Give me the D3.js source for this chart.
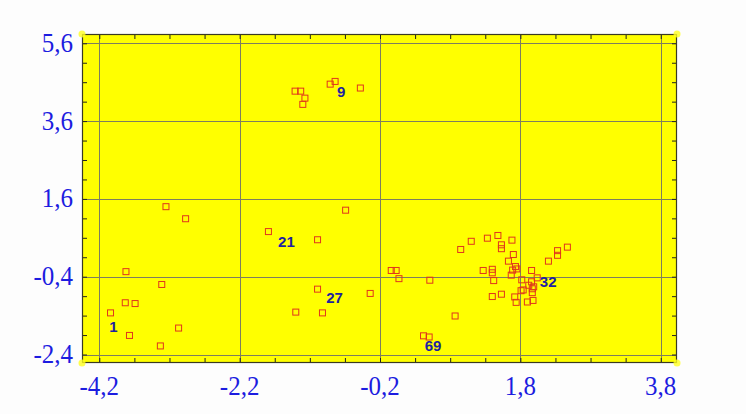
<!DOCTYPE html>
<html><head><meta charset="utf-8">
<script src="https://cdn.jsdelivr.net/npm/d3@7"></script>
<style>
html,body{margin:0;padding:0;background:#fdfdfd;}
svg{display:block;}
</style></head>
<body>
<svg id="chart" width="746" height="414"></svg>
<script>
// ---- data ----
const xTicks = [-4.2, -2.2, -0.2, 1.8, 3.8];
const yTicks = [-2.4, -0.4, 1.6, 3.6, 5.6];
const xValues = [
  -3.25,-2.97,-3.82,-3.31,-3.83,-3.69,-4.04,-3.77,-3.07,-3.33,
  -1.41,-1.33,-1.27,-1.30,-0.91,-0.84,-0.48,
  -0.69,-1.79,-1.09,-0.04,0.03,0.07,0.51,-1.09,-0.34,-1.40,-1.02,0.87,0.42,0.50,
  0.95,1.10,1.33,1.48,1.53,1.53,1.68,1.70,1.63,1.73,1.75,1.69,1.27,1.40,1.40,1.42,1.67,
  1.96,1.82,1.96,1.92,1.99,1.97,1.81,1.84,1.97,1.53,1.40,1.72,1.74,1.90,1.98,
  2.20,2.33,2.33,2.47,2.04
];
const yValues = [
  1.40,1.09,-0.27,-0.60,-1.07,-1.09,-1.33,-1.91,-1.72,-2.18,
  4.37,4.37,4.19,4.03,4.55,4.62,4.45,
  1.31,0.76,0.55,-0.24,-0.24,-0.45,-0.49,-0.72,-0.83,-1.31,-1.33,-1.41,-1.92,-1.95,
  0.30,0.51,0.59,0.66,0.42,0.32,0.54,0.17,0.00,-0.14,-0.20,-0.23,-0.24,-0.21,-0.30,-0.50,-0.36,
  -0.24,-0.48,-0.53,-0.62,-0.66,-0.71,-0.76,-0.74,-0.81,-0.85,-0.91,-0.92,-1.06,-1.05,-1.01,
  0.00,0.27,0.15,0.36,-0.43
];
const pointLabels = ["1","9","21","27","32","69"];
const labelIndex  = [6, 15, 18, 24, 67, 30];

// ---- layout / style ----
const plot = {left: 82, right: 677, top: 34, bottom: 363};
const xDomain = [-4.4465, 4.032];
const yDomain = [-2.6185, 5.839];
const labelOffset = {"1":[3,14],"9":[6,10],"21":[18,10],"27":[17,8],"32":[11,4],"69":[4,9]};

const svg = d3.select("#chart");
const x = d3.scaleLinear().domain(xDomain).range([plot.left, plot.right]);
const y = d3.scaleLinear().domain(yDomain).range([plot.bottom, plot.top]);

svg.append("rect").attr("x", plot.left).attr("y", plot.top)
  .attr("width", plot.right - plot.left).attr("height", plot.bottom - plot.top)
  .attr("fill", "#ffff00");

const xMinor = d3.range(0, 17).map(i => +(-4.2 + i * 0.5).toFixed(2));
const yMinor = d3.range(0, 17).map(i => +(-2.4 + i * 0.5).toFixed(2));

const grid = svg.append("g").attr("stroke", "#7e7e5e").attr("stroke-width", 1).attr("shape-rendering","crispEdges");
grid.selectAll(".gx").data(xTicks).join("line")
  .attr("x1", d => Math.round(x(d)) + 0.5).attr("x2", d => Math.round(x(d)) + 0.5)
  .attr("y1", plot.top).attr("y2", plot.bottom);
grid.selectAll(".gy").data(yTicks).join("line")
  .attr("y1", d => Math.round(y(d)) + 0.5).attr("y2", d => Math.round(y(d)) + 0.5)
  .attr("x1", plot.left).attr("x2", plot.right);

const fmt = d => d3.format(".1f")(d).replace(".", ",").replace("−", "-");
const axisStyle = g => { g.select(".domain").remove(); g.selectAll("line").attr("stroke", "#222"); g.selectAll("text").remove(); };
svg.append("g").attr("transform", `translate(0,${plot.bottom})`)
  .call(d3.axisBottom(x).tickValues(xMinor).tickSize(-5).tickFormat("")).call(axisStyle);
svg.append("g").attr("transform", `translate(0,${plot.top})`)
  .call(d3.axisTop(x).tickValues(xMinor).tickSize(-5).tickFormat("")).call(axisStyle);
svg.append("g").attr("transform", `translate(${plot.left},0)`)
  .call(d3.axisLeft(y).tickValues(yMinor).tickSize(-5).tickFormat("")).call(axisStyle);
svg.append("g").attr("transform", `translate(${plot.right},0)`)
  .call(d3.axisRight(y).tickValues(yMinor).tickSize(-5).tickFormat("")).call(axisStyle);

svg.append("rect").attr("x", plot.left + 0.5).attr("y", plot.top + 0.5)
  .attr("width", plot.right - plot.left - 1).attr("height", plot.bottom - plot.top - 1)
  .attr("fill", "none").attr("stroke", "#3a3a22").attr("stroke-width", 1.2);

[[plot.left, plot.top],[plot.right, plot.top],[plot.left, plot.bottom],[plot.right, plot.bottom]].forEach(c => {
  svg.append("circle").attr("cx", c[0]).attr("cy", c[1]).attr("r", 3.5).attr("fill", "#ffff20").attr("opacity", 0.8);
});

const tickFont = "'Liberation Serif','Times New Roman',serif";
svg.append("g").selectAll("text").data(xTicks).join("text")
  .attr("transform", d => `translate(${x(d)},395) scale(1,1.1)`)
  .attr("text-anchor", "middle").attr("font-family", tickFont).attr("font-size", 25)
  .attr("fill", "#1c1ce0").text(fmt);
svg.append("g").selectAll("text").data(yTicks).join("text")
  .attr("transform", d => `translate(73,${y(d) + 8.5}) scale(1,1.1)`)
  .attr("text-anchor", "end").attr("font-family", tickFont).attr("font-size", 25)
  .attr("fill", "#1c1ce0").text(fmt);

const pts = xValues.map((v, i) => ({x: v, y: yValues[i]}));
const s = 6;
svg.append("g").selectAll("rect").data(pts).join("rect")
  .attr("x", d => x(d.x) - s / 2).attr("y", d => y(d.y) - s / 2)
  .attr("width", s).attr("height", s)
  .attr("fill", "none").attr("stroke", "#e0361c").attr("stroke-width", 1);

svg.append("g").selectAll("text").data(pointLabels).join("text")
  .attr("x", (d, i) => x(xValues[labelIndex[i]]) + labelOffset[d][0])
  .attr("y", (d, i) => y(yValues[labelIndex[i]]) + labelOffset[d][1])
  .attr("dy", "0.36em")
  .attr("text-anchor", "middle").attr("font-family", "'Liberation Sans',Arial,sans-serif")
  .attr("font-weight", "bold").attr("font-size", 15).attr("fill", "#1e22a0").text(d => d);
</script>
</body></html>
